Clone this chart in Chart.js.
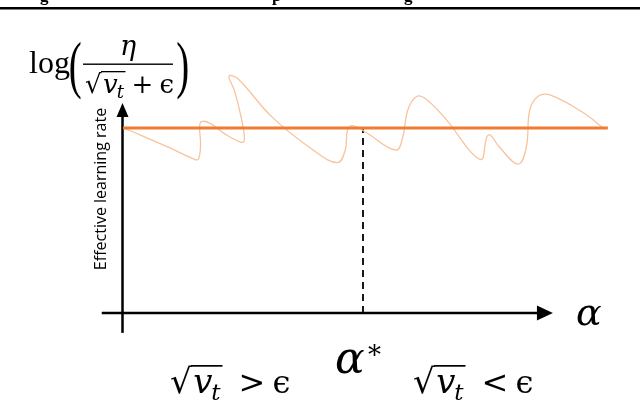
<!DOCTYPE html>
<html><head><meta charset="utf-8">
<script src="https://cdn.jsdelivr.net/npm/chart.js@4"></script>
<style>html,body{margin:0;padding:0;background:#fff}#wrap{width:640px;height:400px;position:relative}</style>
</head><body><div id="wrap"><canvas id="c"></canvas></div>
<script>
// ---- data (alpha on x, effective learning rate on y) ----
const curveAlpha = [0.04,0.97,1.47,1.58,1.63,1.61,1.65,1.83,2.11,2.47,2.54,2.47,2.33,2.22,2.40,3.11,3.97,4.47,4.63,4.68,4.79,5.04,5.68,5.82,5.93,6.11,6.29,6.68,7.43,7.57,7.64,7.82,8.22,8.39,8.46,8.64,8.89,9.54,10.0];
const curveRate  = [4.00,3.58,3.34,3.32,3.63,4.03,4.14,4.10,3.89,3.69,3.74,4.24,4.82,5.12,5.07,4.24,3.52,3.25,3.52,3.96,4.05,3.92,3.52,3.78,4.39,4.68,4.64,4.24,3.32,3.81,3.85,3.60,3.22,3.60,4.39,4.69,4.71,4.35,3.99];
const flatAlpha = [0.02, 10.08];
const flatRate  = [4, 4];
const alphaStar = [5, 5];
const alphaStarRate = [0, 4];
const xAxisSpan = [-0.42, 8.94];
const yAxisSpan = [-0.43, 4.54];

const zip = (a,b)=>a.map((v,i)=>({x:v,y:b[i]}));
const SERIF = '"Liberation Serif","DejaVu Serif",serif';
const MATH = '"DejaVu Serif",serif';

function drawStretched(ctx, ch, left, top, bottom, width){
  ctx.save();
  ctx.font = '60px ' + SERIF;
  const m = ctx.measureText(ch);
  const asc = m.actualBoundingBoxAscent, desc = m.actualBoundingBoxDescent;
  const inkL = -m.actualBoundingBoxLeft, inkW = m.actualBoundingBoxRight + m.actualBoundingBoxLeft;
  const sy = (bottom-top)/(asc+desc), sx = width/inkW;
  ctx.translate(left - inkL*sx, top + asc*sy);
  ctx.scale(sx, sy);
  ctx.textBaseline = 'alphabetic';
  ctx.fillText(ch, 0, 0);
  ctx.restore();
}
function sqrtVt(ctx, x, base, size){
  ctx.font = size + 'px ' + MATH;
  const m = ctx.measureText('\u221A');
  ctx.fillText('\u221A', x, base);
  const top = base - m.actualBoundingBoxAscent;
  const r = x + m.actualBoundingBoxRight;
  let cx = r + size*0.04;
  ctx.font = 'italic ' + size + 'px ' + MATH;
  ctx.fillText('v', cx, base);
  cx += ctx.measureText('v').width - size*0.04;
  ctx.font = 'italic ' + Math.round(size*0.68) + 'px ' + MATH;
  ctx.fillText('t', cx, base + size*0.2);
  cx += ctx.measureText('t').width + size*0.06;
  ctx.fillRect(r - 1, top, cx - r + 1, Math.max(1.2, size*0.05));
  return cx;
}

const axesPlugin = {
  id:'axes',
  beforeDatasetsDraw(chart){
    const {ctx, scales:{x, y}} = chart;
    ctx.save();
    ctx.strokeStyle = '#000'; ctx.fillStyle = '#000'; ctx.lineWidth = 2.5;
    const x0 = x.getPixelForValue(0), y0 = y.getPixelForValue(0);
    const xa = x.getPixelForValue(xAxisSpan[0]), xb = x.getPixelForValue(xAxisSpan[1]);
    const ya = y.getPixelForValue(yAxisSpan[0]), yb = y.getPixelForValue(yAxisSpan[1]);
    ctx.beginPath(); ctx.moveTo(xa, y0); ctx.lineTo(xb - 12, y0); ctx.stroke();
    ctx.beginPath(); ctx.moveTo(xb, y0); ctx.lineTo(xb - 16, y0 - 7.5); ctx.lineTo(xb - 16, y0 + 7.5); ctx.closePath(); ctx.fill();
    ctx.beginPath(); ctx.moveTo(x0 + 0.5, ya); ctx.lineTo(x0 + 0.5, yb + 10); ctx.stroke();
    ctx.beginPath(); ctx.moveTo(x0 + 0.5, yb); ctx.lineTo(x0 - 5.5, yb + 14); ctx.lineTo(x0 + 6.5, yb + 14); ctx.closePath(); ctx.fill();
    ctx.restore();
  },
  afterDraw(chart){
    const {ctx} = chart;
    ctx.save();
    ctx.fillStyle = '#000';
    ctx.textBaseline = 'alphabetic';
    // top rule and cut-off caption descenders
    ctx.fillRect(0, 7, 640, 2.5);
    ctx.font = 'bold 17px ' + SERIF;
    ctx.fillText('g', 40, 1); ctx.fillText('p', 272, 1); ctx.fillText('g', 404, 1);
    // y label formula
    ctx.font = '32px ' + SERIF;
    ctx.fillText('log', 29, 73);
    drawStretched(ctx, '(', 70, 42, 100, 11);
    drawStretched(ctx, ')', 177, 42, 100, 11);
    ctx.font = 'italic 27px ' + MATH;
    ctx.textAlign = 'center';
    ctx.fillText('\u03B7', 128, 55);
    ctx.textAlign = 'left';
    ctx.fillRect(83, 63.5, 90, 1.4);
    let cx = sqrtVt(ctx, 85, 93, 26);
    ctx.font = '26px ' + MATH;
    ctx.fillText('+', cx + 6, 93);
    ctx.fillText('\u03F5', cx + 34, 93);
    // rotated axis title
    ctx.save();
    ctx.translate(106, 189);
    ctx.rotate(-Math.PI/2);
    ctx.textAlign = 'center';
    ctx.font = '16px "Open Sans",sans-serif';
    ctx.fillText('Effective learning rate', 0, 0);
    ctx.restore();
    // alpha axis label
    ctx.font = 'italic 38px ' + MATH;
    ctx.fillText('\u03B1', 576, 325);
    // alpha star
    ctx.font = 'italic 44px ' + MATH;
    ctx.fillText('\u03B1', 335, 373);
    ctx.font = '26px ' + MATH;
    ctx.fillText('*', 368, 364);
    // region labels
    cx = sqrtVt(ctx, 170, 393, 34);
    ctx.font = '32px ' + MATH;
    ctx.fillText('>', cx + 16, 393);
    ctx.fillText('\u03F5', cx + 50, 393);
    cx = sqrtVt(ctx, 413, 393, 34);
    ctx.font = '32px ' + MATH;
    ctx.fillText('<', cx + 16, 393);
    ctx.fillText('\u03F5', cx + 50, 393);
    ctx.restore();
  }
};

new Chart(document.getElementById('c'), {
  type:'scatter',
  data:{datasets:[
    {data:zip(flatAlpha, flatRate), showLine:true, borderColor:'#ee7d31', borderWidth:3.2, pointRadius:0, order:1, clip:false},
    {data:zip(curveAlpha, curveRate), showLine:true, borderColor:'#f8c39c', borderWidth:1.3, pointRadius:0, tension:0.4, order:2, clip:false},
    {data:zip(alphaStar, alphaStarRate), showLine:true, borderColor:'#000', borderWidth:1.8, borderDash:[7,5], pointRadius:0, order:3, clip:false}
  ]},
  options:{
    animation:false, responsive:true, maintainAspectRatio:false,
    layout:{padding:{left:122, right:11.9, top:35.5, bottom:87}},
    scales:{x:{type:'linear', min:0, max:10.5, display:false}, y:{type:'linear', min:0, max:6, display:false}},
    plugins:{legend:{display:false}, tooltip:{enabled:false}}
  },
  plugins:[axesPlugin]
});
</script></body></html>
